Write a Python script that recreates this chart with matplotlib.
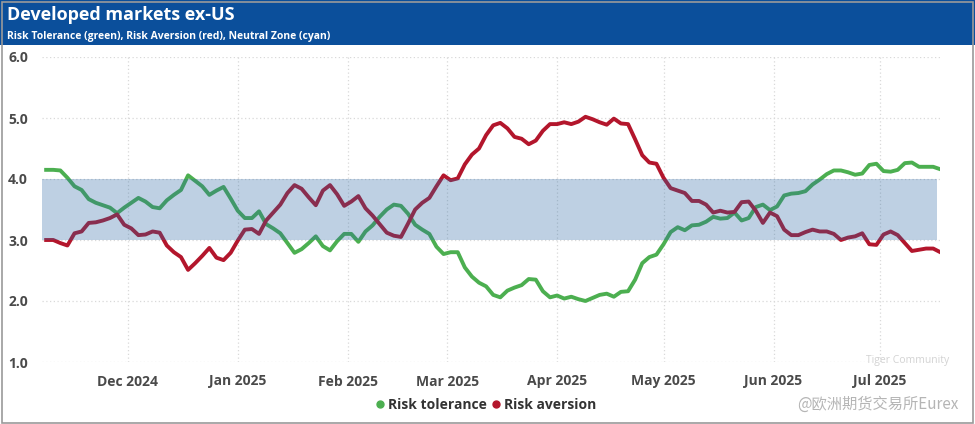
import matplotlib
matplotlib.use("Agg")
import matplotlib.pyplot as plt
import matplotlib.dates as mdates
from matplotlib.patches import Rectangle
from matplotlib.lines import Line2D
import pandas as pd

plt.rcParams['font.family'] = ['Open Sans', 'Noto Sans CJK SC', 'DejaVu Sans']

title = "Developed markets ex-US"
subtitle = "Risk Tolerance (green), Risk Aversion (red), Neutral Zone (cyan)"
series_names = ["Risk tolerance", "Risk aversion"]
start_date = "2024-11-08"

risk_tolerance = [
    4.15, 4.15, 4.14, 4.02, 3.88, 3.82, 3.67, 3.61, 3.57, 3.53,
    3.44, 3.53, 3.61, 3.69, 3.63, 3.54, 3.52, 3.65, 3.74, 3.82,
    4.06, 3.97, 3.88, 3.74, 3.81, 3.87, 3.68, 3.48, 3.36, 3.36,
    3.47, 3.26, 3.19, 3.11, 2.95, 2.79, 2.85, 2.95, 3.06, 2.90,
    2.83, 2.98, 3.10, 3.10, 2.97, 3.14, 3.24, 3.38, 3.50, 3.58,
    3.56, 3.43, 3.25, 3.17, 3.10, 2.89, 2.77, 2.80, 2.80, 2.55,
    2.40, 2.30, 2.24, 2.10, 2.06, 2.17, 2.22, 2.26, 2.36, 2.35,
    2.16, 2.06, 2.09, 2.04, 2.07, 2.03, 2.00, 2.05, 2.10, 2.12,
    2.07, 2.15, 2.16, 2.35, 2.62, 2.72, 2.76, 2.93, 3.13, 3.21,
    3.16, 3.24, 3.25, 3.30, 3.38, 3.35, 3.36, 3.45, 3.32, 3.36,
    3.54, 3.58, 3.49, 3.55, 3.73, 3.76, 3.77, 3.80, 3.91, 3.99,
    4.08, 4.14, 4.14, 4.11, 4.07, 4.09, 4.23, 4.25, 4.13, 4.12,
    4.15, 4.26, 4.27, 4.20, 4.20, 4.20, 4.16,
]

risk_aversion = [
    3.00, 3.00, 2.95, 2.91, 3.11, 3.14, 3.28, 3.29, 3.32, 3.36,
    3.42, 3.25, 3.19, 3.08, 3.09, 3.14, 3.12, 2.91, 2.80, 2.72,
    2.51, 2.62, 2.74, 2.87, 2.71, 2.67, 2.79, 2.99, 3.17, 3.18,
    3.10, 3.32, 3.45, 3.58, 3.77, 3.90, 3.84, 3.70, 3.57, 3.81,
    3.90, 3.75, 3.56, 3.63, 3.72, 3.52, 3.40, 3.26, 3.12, 3.07,
    3.05, 3.27, 3.50, 3.61, 3.69, 3.88, 4.06, 3.98, 4.01, 4.24,
    4.40, 4.50, 4.72, 4.88, 4.92, 4.83, 4.69, 4.66, 4.57, 4.63,
    4.79, 4.90, 4.90, 4.93, 4.90, 4.94, 5.02, 4.98, 4.93, 4.89,
    4.99, 4.91, 4.90, 4.65, 4.39, 4.27, 4.25, 4.02, 3.85, 3.81,
    3.77, 3.64, 3.64, 3.58, 3.45, 3.48, 3.45, 3.46, 3.62, 3.63,
    3.48, 3.28, 3.45, 3.39, 3.17, 3.08, 3.08, 3.13, 3.17, 3.14,
    3.14, 3.10, 3.00, 3.04, 3.06, 3.11, 2.93, 2.92, 3.09, 3.14,
    3.08, 2.95, 2.82, 2.84, 2.86, 2.86, 2.80,
]

neutral_zone = [3.0, 4.0]
y_ticks = [1.0, 2.0, 3.0, 4.0, 5.0, 6.0]

dates = pd.date_range(start_date, periods=len(risk_tolerance), freq="2D")

W, H = 975, 424
fig = plt.figure(figsize=(W / 100, H / 100), dpi=100)
fig.patch.set_facecolor("white")

# header bar
fig.patches.append(Rectangle((0, 1 - 45 / H), 1, 45 / H, transform=fig.transFigure,
                             facecolor="#0b4f9b", edgecolor="none", zorder=0))
# outer frame
fig.patches.append(Rectangle((1.5 / W, 1.5 / H), 1 - 4 / W, 1 - 3 / H, transform=fig.transFigure,
                             facecolor="none", edgecolor="#9a9a9a", lw=1.2, zorder=1))

fig.text(7 / W, 1 - 15 / H, title, color="white", fontsize=13, fontweight="bold",
         va="center", ha="left")
fig.text(7 / W, 1 - 36 / H, subtitle, color="white", fontsize=7.5, fontweight="bold",
         va="center", ha="left")

ax = fig.add_axes([42 / W, 1 - 362 / H, (940 - 42) / W, (362 - 57) / H])
green = "#4caf50"
red = "#b3162c"
ax.plot(dates, risk_tolerance, color=green, lw=2.8, zorder=2, solid_joinstyle="round")
ax.plot(dates, risk_aversion, color=red, lw=2.8, zorder=2, solid_joinstyle="round")
ax.axhspan(neutral_zone[0], neutral_zone[1], xmin=0.0, xmax=0.997,
           facecolor=(0.16, 0.40, 0.64), alpha=0.30, lw=0, zorder=3)

ax.set_ylim(1.0, 6.0)
ax.set_xlim(pd.Timestamp("2024-11-06 20:00"), pd.Timestamp("2025-07-17 22:00"))
ax.set_yticks(y_ticks)
ax.set_yticklabels([f"{v:.1f}" for v in y_ticks])
ax.xaxis.set_major_locator(mdates.MonthLocator())
ax.xaxis.set_major_formatter(mdates.DateFormatter("%b %Y"))
for s in ax.spines.values():
    s.set_visible(False)
ax.tick_params(axis="both", length=0, labelsize=10, labelcolor="#4a4a4a")
ax.tick_params(axis="y", pad=10)
ax.tick_params(axis="x", pad=9)
for lbl in ax.get_xticklabels() + ax.get_yticklabels():
    lbl.set_fontweight("bold")
ax.grid(True, which="major", axis="both", color="#d9d9d9", lw=0.9, ls=(0, (1, 2)))
ax.set_axisbelow(True)

handles = [Line2D([], [], marker="o", ls="none", color=green, markersize=5),
           Line2D([], [], marker="o", ls="none", color=red, markersize=5)]
leg = fig.legend(handles, series_names, loc="center", bbox_to_anchor=(486 / W, 1 - 405 / H),
                 ncol=2, frameon=False, handlelength=0.6, handletextpad=0.3,
                 columnspacing=0.3, prop={"weight": "bold", "size": 10})
for t in leg.get_texts():
    t.set_color("#333333")

# watermark
fig.text(866 / W, 1 - 361 / H, "Tiger Community", color="#c8c8c8", fontsize=7.5,
         ha="left", va="center", alpha=0.8)
fig.text(958 / W, 1 - 404 / H, "@欧洲期货交易所Eurex", color="#b5b5b5", fontsize=11,
         ha="right", va="center", family=["Noto Sans CJK SC", "DejaVu Sans"])

fig.savefig("out.png", dpi=100, facecolor="white")
